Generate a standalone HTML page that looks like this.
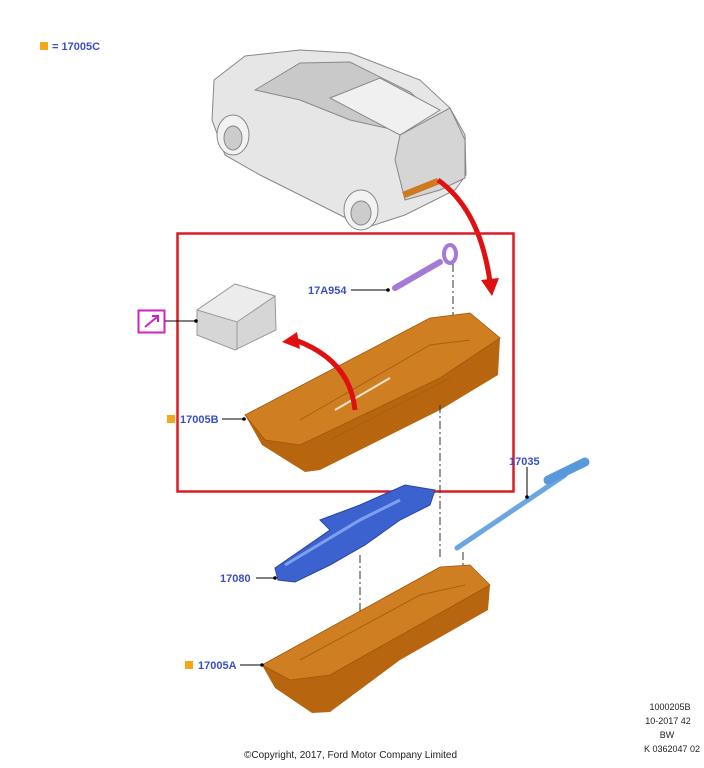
<!DOCTYPE html>
<html><head><meta charset="utf-8"><style>
html,body{margin:0;padding:0;background:#fff;width:704px;height:768px;overflow:hidden}
svg{display:block}
text{font-family:"Liberation Sans",sans-serif}
.lb{fill:#3b4fc4;font-weight:bold;font-size:11px}
.sm{fill:#222;font-size:9px}
</style></head><body>
<svg width="704" height="768" viewBox="0 0 704 768">
<rect x="40" y="42" width="8" height="8" fill="#f3a81c"/>
<text x="52" y="50" class="lb">= 17005C</text>

<g stroke="#888" stroke-width="1">
<path d="M214,80 L245,56 L300,50 L350,53 L420,80 L450,108 L465,135 L466,175 L455,190 L405,215 L365,228 L340,215 L300,195 L260,175 L225,155 L212,120 Z" fill="#e6e6e6"/>
<path d="M255,90 L300,63 L350,62 L410,92 L430,110 L395,130 L350,120 L300,100 Z" fill="#c9c9c9"/>
<path d="M330,98 L380,78 L440,110 L400,135 Z" fill="#f0f0f0"/>
<path d="M400,135 L450,108 L465,140 L465,178 L440,190 L405,200 L395,160 Z" fill="#d5d5d5"/>
<ellipse cx="233" cy="135" rx="16" ry="20" fill="#f2f2f2"/>
<ellipse cx="233" cy="138" rx="9" ry="12" fill="#ccc"/>
<ellipse cx="361" cy="210" rx="17" ry="20" fill="#f2f2f2"/>
<ellipse cx="361" cy="213" rx="10" ry="12" fill="#ccc"/>
</g>
<path d="M402,192 L437,178 L440,184 L405,198 Z" fill="#d07a20"/>

<path d="M438,180 Q480,210 490,282" fill="none" stroke="#e01010" stroke-width="5"/>
<path d="M481,280 L499,278 L492,296 Z" fill="#e01010"/>

<rect x="177.5" y="233.5" width="336" height="258" fill="none" stroke="#dc1c24" stroke-width="2.5"/>

<path d="M197,310 L235,284 L275,296 L276,330 L235,350 L197,335 Z" fill="#d6d6d6" stroke="#999"/>
<path d="M197,310 L235,284 L275,296 L237,322 Z" fill="#ececec" stroke="#999"/>
<path d="M237,322 L237,350" stroke="#999"/>
<rect x="138.5" y="310.5" width="26" height="22" fill="#fff" stroke="#d020c8" stroke-width="2"/>
<path d="M145,327 L157,317 M152,316 L158,316 L158,322" stroke="#d020c8" stroke-width="2" fill="none"/>
<line x1="165" y1="321" x2="196" y2="321" stroke="#000"/>
<circle cx="196" cy="321" r="1.8"/>

<path d="M395,288 L440,262" stroke="#a47ad8" stroke-width="6" stroke-linecap="round"/>
<ellipse cx="450" cy="254" rx="6" ry="9" fill="none" stroke="#a47ad8" stroke-width="4"/>
<text x="308" y="294" class="lb">17A954</text>
<line x1="351" y1="290" x2="388" y2="290" stroke="#000"/>
<circle cx="388" cy="290" r="1.8"/>
<line x1="453" y1="264" x2="453" y2="360" stroke="#333" stroke-dasharray="8,3,2,3"/>

<path d="M245,415 L430,318 L470,313 L500,338 L498,375 L440,410 L380,440 L320,470 L305,472 L262,445 Z" fill="#b8650f"/>
<path d="M245,415 L430,318 L470,313 L500,338 L440,378 L300,445 L265,440 Z" fill="#d07e22" stroke="#a0550a" stroke-width="0.8"/>
<path d="M300,420 L430,345 L470,340 M330,440 L450,378" stroke="#a8600e" fill="none"/>
<path d="M335,410 L390,378" stroke="#fbe8d0" stroke-width="2"/>
<line x1="440" y1="405" x2="440" y2="560" stroke="#333" stroke-dasharray="8,3,2,3"/>

<path d="M355,410 Q350,360 295,340" fill="none" stroke="#e01010" stroke-width="5"/>
<path d="M297,332 L282,342 L300,349 Z" fill="#e01010"/>

<rect x="167" y="415" width="8" height="8" fill="#f3a81c"/>
<text x="180" y="423" class="lb">17005B</text>
<line x1="222" y1="419" x2="244" y2="419" stroke="#000"/>
<circle cx="244" cy="419" r="1.8"/>

<path d="M457,548 L565,475" stroke="#6aa6e2" stroke-width="5" stroke-linecap="round"/>
<path d="M548,480 L585,462" stroke="#5a98dc" stroke-width="9" stroke-linecap="round"/>
<text x="509" y="465" class="lb">17035</text>
<line x1="527" y1="467" x2="527" y2="497" stroke="#000"/>
<circle cx="527" cy="497" r="1.8"/>
<line x1="463" y1="552" x2="463" y2="580" stroke="#333" stroke-dasharray="8,3,2,3"/>

<path d="M275,568 L330,530 L320,520 L360,505 L405,485 L435,490 L430,505 L400,520 L365,545 L330,565 L295,582 L278,580 Z" fill="#3b62cf" stroke="#2a45a0"/>
<path d="M285,565 L360,520 L400,500" stroke="#7ea0ee" stroke-width="3" fill="none"/>
<text x="220" y="582" class="lb">17080</text>
<line x1="256" y1="578" x2="275" y2="578" stroke="#000"/>
<circle cx="275" cy="578" r="1.8"/>
<line x1="360" y1="555" x2="360" y2="640" stroke="#333" stroke-dasharray="8,3,2,3"/>

<path d="M262,665 L440,567 L470,565 L490,585 L488,610 L400,660 L330,712 L312,713 L275,688 Z" fill="#b8650f"/>
<path d="M262,665 L440,567 L470,565 L490,585 L330,675 L290,680 Z" fill="#d07e22" stroke="#a0550a" stroke-width="0.8"/>
<path d="M300,660 L420,595 L465,585" stroke="#a8600e" fill="none"/>
<rect x="185" y="661" width="8" height="8" fill="#f3a81c"/>
<text x="198" y="669" class="lb">17005A</text>
<line x1="240" y1="665" x2="262" y2="665" stroke="#000"/>
<circle cx="262" cy="665" r="1.8"/>

<text x="670" y="710" class="sm" text-anchor="middle">1000205B</text>
<text x="668" y="724" class="sm" text-anchor="middle">10-2017 42</text>
<text x="667" y="738" class="sm" text-anchor="middle">BW</text>
<text x="672" y="752" class="sm" text-anchor="middle">K 0362047 02</text>
<text x="244" y="758" class="sm" style="font-size:10px">©Copyright, 2017, Ford Motor Company Limited</text>
</svg>
</body></html>
